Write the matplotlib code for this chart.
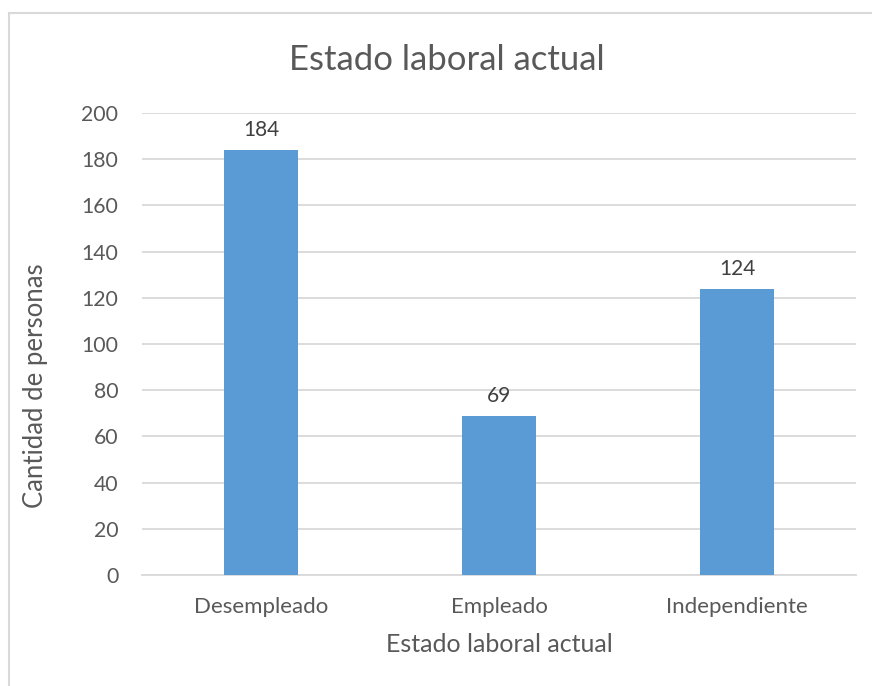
import matplotlib.pyplot as plt
from matplotlib.patches import Rectangle

categorias = ['Desempleado', 'Empleado', 'Independiente']
valores = [184, 69, 124]
yticks = [0, 20, 40, 60, 80, 100, 120, 140, 160, 180, 200]

W, H = 872, 686
gris = '#595959'
plt.rcParams['font.family'] = ['Lato', 'DejaVu Sans']

fig = plt.figure(figsize=(W / 100, H / 100), dpi=100)
fig.patch.set_facecolor('white')

# marco del grafico (solo se ven borde superior e izquierdo)
fig.patches.append(Rectangle((9 / W, -0.1), 1.2, (H - 13) / H + 0.1,
                             transform=fig.transFigure, fill=False,
                             edgecolor='#D9D9D9', linewidth=1.5))

ax = fig.add_axes([142 / W, (H - 575) / H, (856 - 142) / W, (575 - 113) / H])
x = range(len(categorias))
bars = ax.bar(x, valores, width=0.315, color='#5B9BD5', zorder=3)
for b, v in zip(bars, valores):
    ax.annotate(str(v), (b.get_x() + b.get_width() / 2, v), xytext=(0, 7),
                textcoords='offset points', ha='center', va='bottom',
                fontsize=15, color='#404040')

ax.set_xlim(-0.5, 2.5)
ax.set_ylim(0, 200)
ax.set_yticks(yticks)
ax.set_xticks(list(x))
ax.set_xticklabels(categorias)
ax.tick_params(length=0, labelsize=15.3, colors=gris)
ax.tick_params(axis='x', labelsize=16, pad=16)
ax.tick_params(axis='y', pad=17)
ax.grid(axis='y', color='#D9D9D9', linewidth=1.3, zorder=0)
for s in ['top', 'right', 'left']:
    ax.spines[s].set_visible(False)
ax.spines['bottom'].set_color('#D9D9D9')
ax.spines['bottom'].set_linewidth(1.3)

fig.text(447 / W, 1 - 60 / H, 'Estado laboral actual', ha='center', va='center',
         fontsize=25, color=gris)
fig.text(499 / W, 1 - 645 / H, 'Estado laboral actual', ha='center', va='center',
         fontsize=18, color=gris)
fig.text(36 / W, 1 - 386 / H, 'Cantidad de personas', ha='center', va='center',
         rotation=90, fontsize=18.5, color=gris)

fig.savefig('out.png', dpi=100)
